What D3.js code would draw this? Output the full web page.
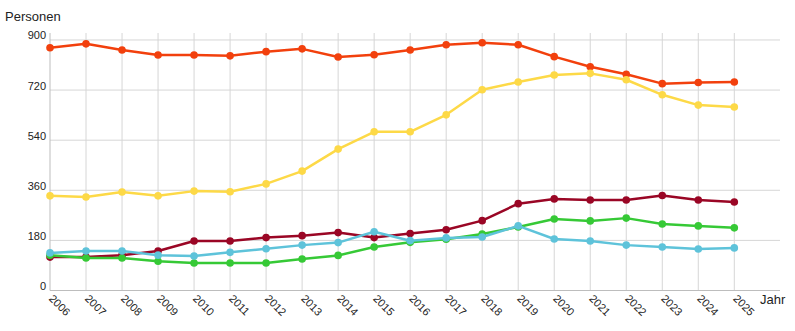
<!DOCTYPE html>
<html>
<head>
<meta charset="utf-8">
<script src="https://cdn.jsdelivr.net/npm/d3@7"></script>
<style>
  html, body { margin: 0; padding: 0; background: #fff; }
  svg { display: block; font-family: "Liberation Sans", Arial, sans-serif; }
</style>
</head>
<body>
<svg id="chart" width="795" height="331"></svg>
<script>
// Years on the x axis
const years = [2006, 2007, 2008, 2009, 2010, 2011, 2012, 2013, 2014, 2015,
               2016, 2017, 2018, 2019, 2020, 2021, 2022, 2023, 2024, 2025];

// Counts per series
const seriesRed = [872, 886, 864, 846, 846, 843, 858, 868, 839, 847,
                   864, 883, 890, 883, 840, 804, 777, 743, 747, 749];
const seriesYellow = [340, 336, 354, 340, 357, 355, 383, 429, 508, 570,
                      570, 631, 721, 749, 774, 780, 757, 703, 666, 659];
const seriesDarkRed = [120, 120, 127, 142, 178, 178, 190, 197, 208, 190,
                       205, 218, 251, 312, 329, 325, 325, 341, 325, 318];
const seriesGreen = [127, 117, 117, 105, 99, 99, 99, 113, 126, 156,
                     173, 184, 203, 228, 257, 250, 260, 239, 232, 225];
const seriesBlue = [135, 142, 142, 127, 124, 137, 150, 163, 172, 211,
                    179, 189, 192, 232, 185, 178, 163, 156, 149, 153];

const yTicks = [0, 180, 360, 540, 720, 900];

const series = [
  { values: seriesRed, color: "#f2400d" },
  { values: seriesYellow, color: "#fdd947" },
  { values: seriesDarkRed, color: "#9a0625" },
  { values: seriesGreen, color: "#36c936" },
  { values: seriesBlue, color: "#5ec3da" }
];

const svg = d3.select("#chart");
const plotLeft = 50, plotRight = 780, plotTop = 33, plotBottom = 290.5;

const x = d3.scaleLinear().domain([2006, 2025]).range([plotLeft, 734.3]);
const y = d3.scaleLinear().domain([0, 925]).range([plotBottom, plotTop]);

// Horizontal grid
svg.append("g")
  .selectAll("line")
  .data(yTicks.filter(d => d > 0))
  .join("line")
  .attr("x1", plotLeft).attr("x2", plotRight)
  .attr("y1", d => y(d)).attr("y2", d => y(d))
  .attr("stroke", "#d6d6d6").attr("stroke-width", 1);

// Vertical grid
svg.append("g")
  .selectAll("line")
  .data(years.slice(1))
  .join("line")
  .attr("x1", d => x(d)).attr("x2", d => x(d))
  .attr("y1", plotTop).attr("y2", plotBottom)
  .attr("stroke", "#d6d6d6").attr("stroke-width", 1);

// Axis lines
svg.append("line")
  .attr("x1", plotLeft).attr("x2", plotLeft).attr("y1", plotTop).attr("y2", plotBottom)
  .attr("stroke", "#bdbdbd");
svg.append("line")
  .attr("x1", plotLeft).attr("x2", plotRight).attr("y1", plotBottom).attr("y2", plotBottom)
  .attr("stroke", "#bdbdbd");

// Y tick labels
svg.append("g")
  .selectAll("text")
  .data(yTicks)
  .join("text")
  .attr("x", 46).attr("y", d => y(d) - 0.5)
  .attr("text-anchor", "end")
  .attr("font-size", 11)
  .attr("fill", "#222")
  .text(d => d);

// X tick labels, rotated
svg.append("g")
  .selectAll("text")
  .data(years)
  .join("text")
  .attr("transform", d => `translate(${x(d) + 1},${plotBottom + 6}) rotate(45)`)
  .attr("text-anchor", "start")
  .attr("dy", "0.35em")
  .attr("font-size", 11)
  .attr("fill", "#222")
  .text(d => d);

// Axis titles
svg.append("text")
  .attr("x", 5).attr("y", 21)
  .attr("font-size", 13).attr("fill", "#222")
  .text("Personen");
svg.append("text")
  .attr("x", 760).attr("y", 304)
  .attr("font-size", 13).attr("fill", "#222")
  .text("Jahr");

// Lines and points
const line = d3.line()
  .x((d, i) => x(years[i]))
  .y(d => y(d));

series.forEach(s => {
  const g = svg.append("g");
  g.append("path")
    .attr("d", line(s.values))
    .attr("fill", "none")
    .attr("stroke", s.color)
    .attr("stroke-width", 2.5)
    .attr("stroke-linejoin", "round");
  g.selectAll("circle")
    .data(s.values)
    .join("circle")
    .attr("cx", (d, i) => x(years[i]))
    .attr("cy", d => y(d))
    .attr("r", 3.8)
    .attr("fill", s.color);
});
</script>
</body>
</html>
